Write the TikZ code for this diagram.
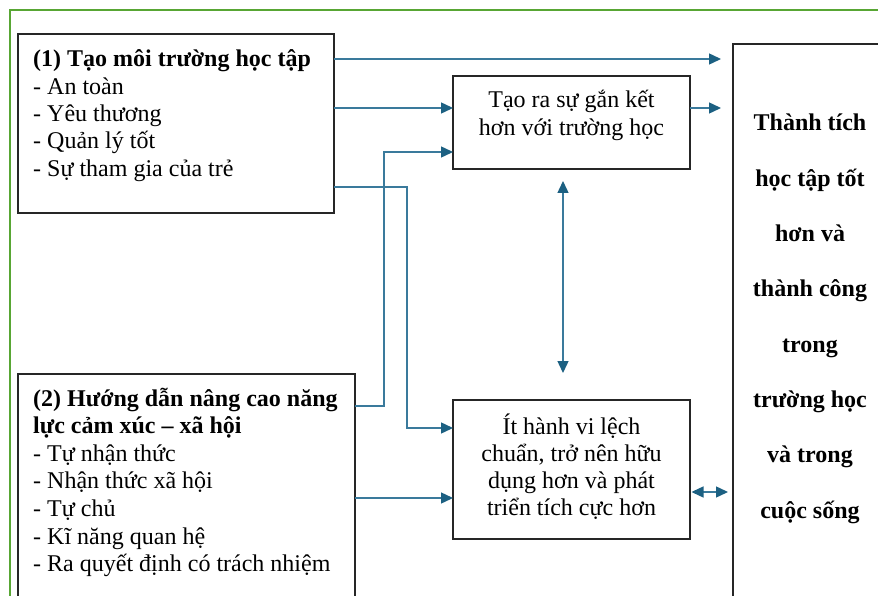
\documentclass[tikz,border=0pt]{standalone}
\usepackage{fontspec}
\setmainfont{Liberation Serif}
\usetikzlibrary{arrows.meta,calc}
\definecolor{frameg}{RGB}{88,166,52}
\definecolor{connc}{RGB}{58,122,156}
\definecolor{tipc}{RGB}{28,96,130}
\begin{document}
\begin{tikzpicture}[x=1pt,y=-1pt,
  box/.style={draw=black!85, line width=1.2pt, rectangle, inner sep=0pt, outer sep=0pt, anchor=north west},
  txt/.style={inner sep=0pt, font=\fontsize{24}{27.3}\selectfont},
  txtb/.style={inner sep=0pt, font=\fontsize{24}{27.6}\selectfont},
  rtxt/.style={inner sep=0pt, font=\fontsize{24}{55.3}\selectfont\bfseries},
  conn/.style={draw=connc, line width=1.4pt},
  tipk/.style={},
  arr/.style={conn, -{Triangle[length=12pt,width=11pt,color=tipc]}},
  darr/.style={conn, {Triangle[length=12pt,width=11pt,color=tipc]}-{Triangle[length=12pt,width=11pt,color=tipc]}}
]
\useasboundingbox (0,0) rectangle (878,596);
\clip (0,0) rectangle (878,596);
\fill[white] (0,0) rectangle (878,596);
% green frame
\draw[frameg, line width=2.8pt] (10,620) -- (10,10) -- (900,10);

% boxes
\node[box, minimum width=316pt, minimum height=179pt] (b1) at (18,34) {};
\node[box, minimum width=337pt, minimum height=280pt] (b2) at (18,374) {};
\node[box, minimum width=237pt, minimum height=93pt] (bond) at (453,76) {};
\node[box, minimum width=237pt, minimum height=139pt] (beh) at (453,400) {};
\node[box, minimum width=220pt, minimum height=620pt] (res) at (733,44) {};

% texts
\node[txt, anchor=base west] (t1) at (33,67) {\begin{tabular}[t]{@{}l@{}}\textbf{(1) Tạo môi trường học tập}\\- An toàn\\- Yêu thương\\- Quản lý tốt\\- Sự tham gia của trẻ\end{tabular}};
\node[txtb, anchor=base west] (t2) at (33,406) {\begin{tabular}[t]{@{}l@{}}\textbf{(2) Hướng dẫn nâng cao năng}\\\textbf{lực cảm xúc – xã hội}\\- Tự nhận thức\\- Nhận thức xã hội\\- Tự chủ\\- Kĩ năng quan hệ\\- Ra quyết định có trách nhiệm\end{tabular}};
\node[txt, anchor=base] (t3) at (571.5,108) {\begin{tabular}[t]{@{}c@{}}Tạo ra sự gắn kết\\hơn với trường học\end{tabular}};
\node[txt, anchor=base] (t4) at (571.5,434) {\begin{tabular}[t]{@{}c@{}}Ít hành vi lệch\\chuẩn, trở nên hữu\\dụng hơn và phát\\triển tích cực hơn\end{tabular}};
\node[rtxt, anchor=base] (t5) at (810,131) {\begin{tabular}[t]{@{}c@{}}Thành tích\\học tập tốt\\hơn và\\thành công\\trong\\trường học\\và trong\\cuộc sống\end{tabular}};

% connectors
\draw[arr, shorten >=12pt] (b1.east |- 0,59) -- (res.west |- 0,59);
\draw[arr] (b1.east |- 0,108) -- (bond.west |- 0,108);
\draw[arr, shorten >=12pt] (bond.east |- 0,108) -- (res.west |- 0,108);
\draw[arr] (b1.east |- 0,187) -- (407,187) -- (407,428) -- (beh.west |- 0,428);
\draw[arr] (b2.east |- 0,406) -- (384,406) -- (384,152) -- (bond.west |- 0,152);
\draw[arr] (b2.east |- 0,498) -- (beh.west |- 0,498);
\draw[darr, shorten <=12pt, shorten >=27pt] (bond.south -| 563,0) -- (beh.north -| 563,0);
\draw[darr, shorten <=1.5pt, shorten >=5pt] (beh.east |- 0,492) -- (res.west |- 0,492);
\end{tikzpicture}
\end{document}
